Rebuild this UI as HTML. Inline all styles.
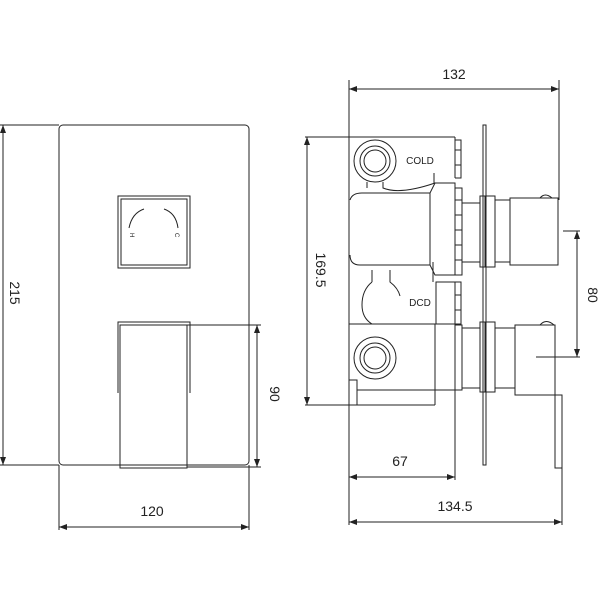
<!DOCTYPE html>
<html><head><meta charset="utf-8"><style>html,body{margin:0;padding:0;background:#fff}svg{display:block}text{font-family:"Liberation Sans",sans-serif;fill:#222}</style></head>
<body>
<svg width="600" height="600" viewBox="0 0 600 600" xmlns="http://www.w3.org/2000/svg">
<defs><marker id="a" markerWidth="8" markerHeight="6" refX="8" refY="3" orient="auto-start-reverse"><path d="M0,0 L8,3 L0,6 z" fill="#222"/></marker></defs>
<g fill="none" stroke="#222" stroke-width="1">
<!-- LEFT VIEW -->
<rect x="59" y="125" width="190" height="340" rx="4"/>
<line x1="0" y1="125" x2="59" y2="125"/><line x1="0" y1="465" x2="59" y2="465"/>
<line x1="3" y1="125" x2="3" y2="465" marker-start="url(#a)" marker-end="url(#a)"/>
<rect x="118" y="196" width="72" height="72"/><rect x="121" y="199" width="66" height="66"/>
<path d="M144,209 Q132,213 129,228"/><path d="M164,209 Q176,213 178,228"/>
<path d="M118,393 V322 H190 V393"/>
<rect x="120" y="325" width="67" height="143"/>
<line x1="187" y1="325" x2="261" y2="325"/>
<line x1="187" y1="467" x2="261" y2="467"/>
<line x1="257" y1="325" x2="257" y2="467" marker-start="url(#a)" marker-end="url(#a)"/>
<line x1="59" y1="465" x2="59" y2="530"/><line x1="249" y1="465" x2="249" y2="530"/>
<line x1="59" y1="527" x2="249" y2="527" marker-start="url(#a)" marker-end="url(#a)"/>
<!-- RIGHT VIEW -->
<line x1="349" y1="80" x2="349" y2="525"/>
<line x1="559" y1="80" x2="559" y2="200"/>
<line x1="349" y1="89" x2="559" y2="89" marker-start="url(#a)" marker-end="url(#a)"/>
<line x1="305" y1="137" x2="455" y2="137"/>
<line x1="305" y1="405" x2="435" y2="405"/>
<line x1="307" y1="137" x2="307" y2="405" marker-start="url(#a)" marker-end="url(#a)"/>
<!-- cold connector -->
<circle cx="375" cy="161" r="21"/><circle cx="375" cy="161" r="15"/><circle cx="375" cy="161" r="11"/>
<circle cx="375" cy="358" r="21"/><circle cx="375" cy="358" r="15"/><circle cx="375" cy="358" r="11"/>
<path d="M455,137 V178 M455,140 H461 V178 H455 M455,150 H461 M455,165 H461"/>
<path d="M367,182 V188 M383,182 V188 Q400,195 435,183"/>
<path d="M350,200 Q352,193 362,193 H430 L435,183 H455 V275 H435 L430,265 H360 Q350,265 350,255"/>
<line x1="430" y1="193" x2="430" y2="265"/>
<path d="M434,173 V183"/>
<path d="M455,188 H462 V275 H455 M455,200 H462 M455,215 H462 M455,230 H462 M455,245 H462 M455,260 H462"/>
<rect x="462" y="203" width="18" height="59"/>
<rect x="480" y="196" width="5" height="71"/>
<rect x="483" y="125" width="3" height="340"/>
<rect x="486" y="196" width="9" height="71"/>
<rect x="495" y="200" width="15" height="62"/>
<rect x="510" y="198" width="48" height="67"/>
<path d="M540,198 Q545,192 552,198"/>
<!-- DCD -->
<path d="M372,270 V282 M390,270 V282 Q398,288 400,296 M372,282 Q362,290 362,305 Q362,318 372,324"/>
<path d="M436,282 H455 V324 H436 Z M455,282 H461 V324 H455 M455,295 H461 M455,310 H461"/>
<line x1="433" y1="262" x2="433" y2="282"/>
<!-- lower body -->
<path d="M349,324 H455 V390"/>
<path d="M435,324 V405"/>
<path d="M349,380 H357 V405"/>
<path d="M357,390 H455"/>
<rect x="455" y="325" width="7" height="65"/>
<rect x="462" y="328" width="18" height="60"/>
<rect x="480" y="322" width="5" height="70"/>
<rect x="486" y="322" width="9" height="70"/>
<rect x="495" y="328" width="20" height="60"/>
<path d="M515,325 H555 V395 H515 Z"/>
<path d="M540,325 Q546,318 554,325"/>
<path d="M515,395 H555 V468 H562"/>
<path d="M555,395 H562 V468"/>
<line x1="536" y1="357" x2="580" y2="357"/>
<line x1="563" y1="231" x2="580" y2="231"/>
<line x1="577" y1="231" x2="577" y2="357" marker-start="url(#a)" marker-end="url(#a)"/>
<line x1="455" y1="390" x2="455" y2="480"/>
<line x1="562" y1="468" x2="562" y2="525"/>
<line x1="349" y1="477" x2="455" y2="477" marker-start="url(#a)" marker-end="url(#a)"/>
<line x1="349" y1="522" x2="562" y2="522" marker-start="url(#a)" marker-end="url(#a)"/>
</g>
<text x="130" y="233" font-size="6" transform="rotate(90 130 233)">H</text>
<text x="175" y="233" font-size="6" transform="rotate(90 175 233)">C</text>
<text x="15" y="293" font-size="14" text-anchor="middle" transform="rotate(90 15 293)" dy="5">215</text>
<text x="275" y="394" font-size="14" text-anchor="middle" transform="rotate(90 275 394)" dy="5">90</text>
<text x="152" y="516" font-size="14" text-anchor="middle">120</text>
<text x="454" y="79" font-size="14" text-anchor="middle">132</text>
<text x="420" y="164" font-size="10" text-anchor="middle">COLD</text>
<text x="420" y="306" font-size="10" text-anchor="middle">DCD</text>
<text x="321" y="270" font-size="14" text-anchor="middle" transform="rotate(90 321 270)" dy="5">169.5</text>
<text x="593" y="295" font-size="14" text-anchor="middle" transform="rotate(90 593 295)" dy="5">80</text>
<text x="400" y="466" font-size="14" text-anchor="middle">67</text>
<text x="455" y="511" font-size="14" text-anchor="middle">134.5</text>
</svg>
</body></html>
